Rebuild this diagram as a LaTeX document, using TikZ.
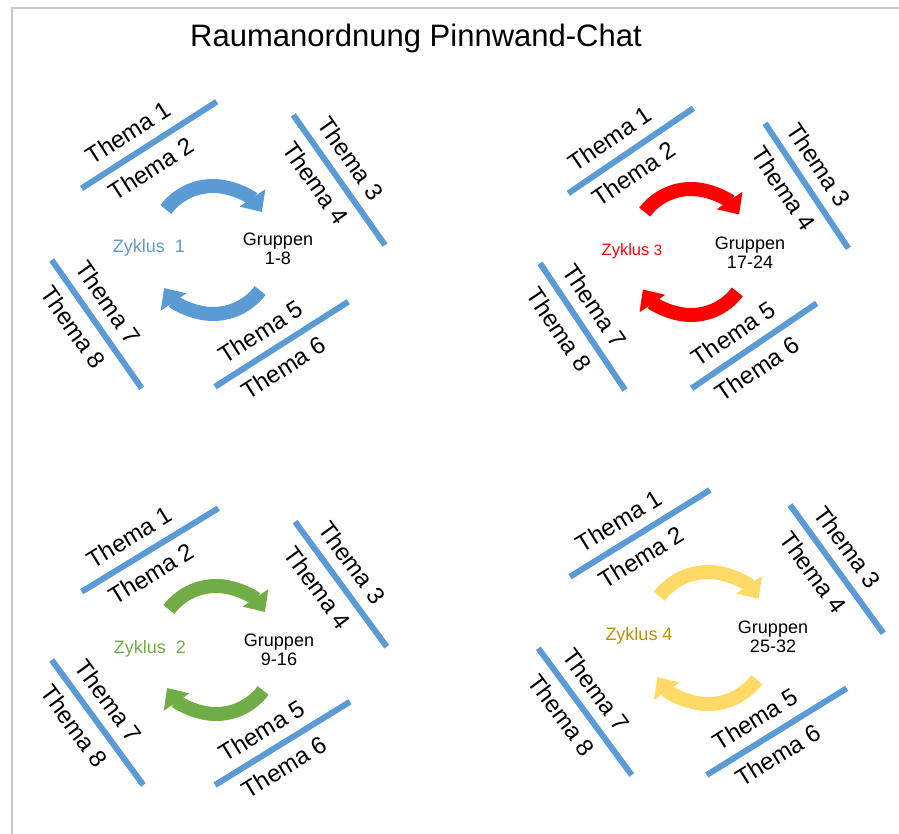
\documentclass[tikz,border=0pt]{standalone}
\usepackage{fontspec}
\setmainfont{Liberation Sans}
\usetikzlibrary{arrows.meta}
\definecolor{wallblue}{RGB}{91,155,213}
\definecolor{cycred}{RGB}{255,0,0}
\definecolor{cycgreen}{RGB}{112,173,71}
\definecolor{cycyellow}{RGB}{255,217,102}
\definecolor{cycgold}{RGB}{191,144,0}
\definecolor{framegray}{RGB}{200,200,200}
\tikzset{
  wall/.style={draw=wallblue, line width=6pt},
  thema/.style={font=\fontsize{24}{28}\selectfont, inner sep=0pt, sloped, text=black},
  cyc/.style={line width=14pt, -{Triangle[width=30pt,length=17pt]}},
  grp/.style={font=\fontsize{18}{19}\selectfont, align=center, inner sep=0pt},
  zyk/.style={font=\fontsize{18}{20}\selectfont, inner sep=0pt},
}
\newcommand\wallpair[5]{%
  \coordinate (#1s) at #2; \coordinate (#1e) at #3;
  \draw[wall] (#1s) -- (#1e)
    node[thema,pos=.43,above=10pt] (#1u) {#4}
    node[thema,pos=.43,below=9pt] (#1d) {#5};
}
% name, cx, cy, radius, colour  (y axis points down)
\newcommand\cyclearrows[5]{%
  \coordinate (#1t) at (#2,{#3-5});
  \coordinate (#1b) at (#2,{#3+5});
  \draw[cyc,#5] ([shift={(-143:#4)}]#1t) arc[start angle=-143, end angle=-34, radius=#4];
  \draw[cyc,#5] ([shift={(37:#4)}]#1b) arc[start angle=37, end angle=146, radius=#4];
}
\begin{document}
\begin{tikzpicture}[x=1pt,y=-1pt]
\useasboundingbox (0,0) rectangle (899,834);
\fill[white] (0,0) rectangle (899,834);
\coordinate (fa) at (12,834); \coordinate (fb) at (12,8); \coordinate (fc) at (899,8);
\draw[framegray, line width=2pt] (fa) -- (fb) -- (fc);
\node[font=\fontsize{31}{34}\selectfont, inner sep=0pt] (title) at (416,38) {Raumanordnung Pinnwand-Chat};

% top left
\wallpair{tla}{(81.7,188.3)}{(216.7,101.7)}{Thema 1}{Thema 2}
\wallpair{tlb}{(293.3,115)}{(385,245)}{Thema 3}{Thema 4}
\wallpair{tlc}{(51.7,260)}{(141.7,388.3)}{Thema 7}{Thema 8}
\wallpair{tld}{(215,386.7)}{(348.3,301.7)}{Thema 5}{Thema 6}
\cyclearrows{tl}{213}{250}{59}{wallblue}
\node[grp] (tlg) at (278,249) {Gruppen\\1-8};
\node[zyk, text=wallblue] (tlz) at (149,248) {Zyklus\ \ 1};

% top right
\wallpair{tra}{(568.3,193.3)}{(693.3,108.3)}{Thema 1}{Thema 2}
\wallpair{trb}{(765,123.3)}{(848.3,248.3)}{Thema 3}{Thema 4}
\wallpair{trc}{(540,263.3)}{(625,390)}{Thema 7}{Thema 8}
\wallpair{trd}{(691.7,388.3)}{(816.7,303.3)}{Thema 5}{Thema 6}
\cyclearrows{tr}{691}{252}{58}{cycred}
\node[grp] (trg) at (750,252.5) {Gruppen\\17-24};
\node[zyk, text=cycred, font=\fontsize{16.5}{18}\selectfont] (trz) at (632,251.7) {Zyklus {\fontsize{15}{18}\selectfont 3}};

% bottom left
\wallpair{bla}{(81.7,591.7)}{(218.3,508.3)}{Thema 1}{Thema 2}
\wallpair{blb}{(295,521.7)}{(386.7,646.7)}{Thema 3}{Thema 4}
\wallpair{blc}{(51.7,660)}{(143.3,785)}{Thema 7}{Thema 8}
\wallpair{bld}{(215,785)}{(350,701.7)}{Thema 5}{Thema 6}
\cyclearrows{bl}{216}{650}{59}{cycgreen}
\node[grp] (blg) at (279,650) {Gruppen\\9-16};
\node[zyk, text=cycgreen] (blz) at (150,649) {Zyklus\ \ 2};

% bottom right
\wallpair{bra}{(570,576.7)}{(710,490)}{Thema 1}{Thema 2}
\wallpair{brb}{(790,505)}{(883.3,633.3)}{Thema 3}{Thema 4}
\wallpair{brc}{(538.3,648.3)}{(631.7,775)}{Thema 7}{Thema 8}
\wallpair{brd}{(706.7,775)}{(846.7,688.3)}{Thema 5}{Thema 6}
\cyclearrows{br}{708}{638}{61}{cycyellow}
\node[grp] (brg) at (773,637) {Gruppen\\25-32};
\node[zyk, text=cycgold] (brz) at (639,636) {Zyklus 4};
\end{tikzpicture}
\end{document}
